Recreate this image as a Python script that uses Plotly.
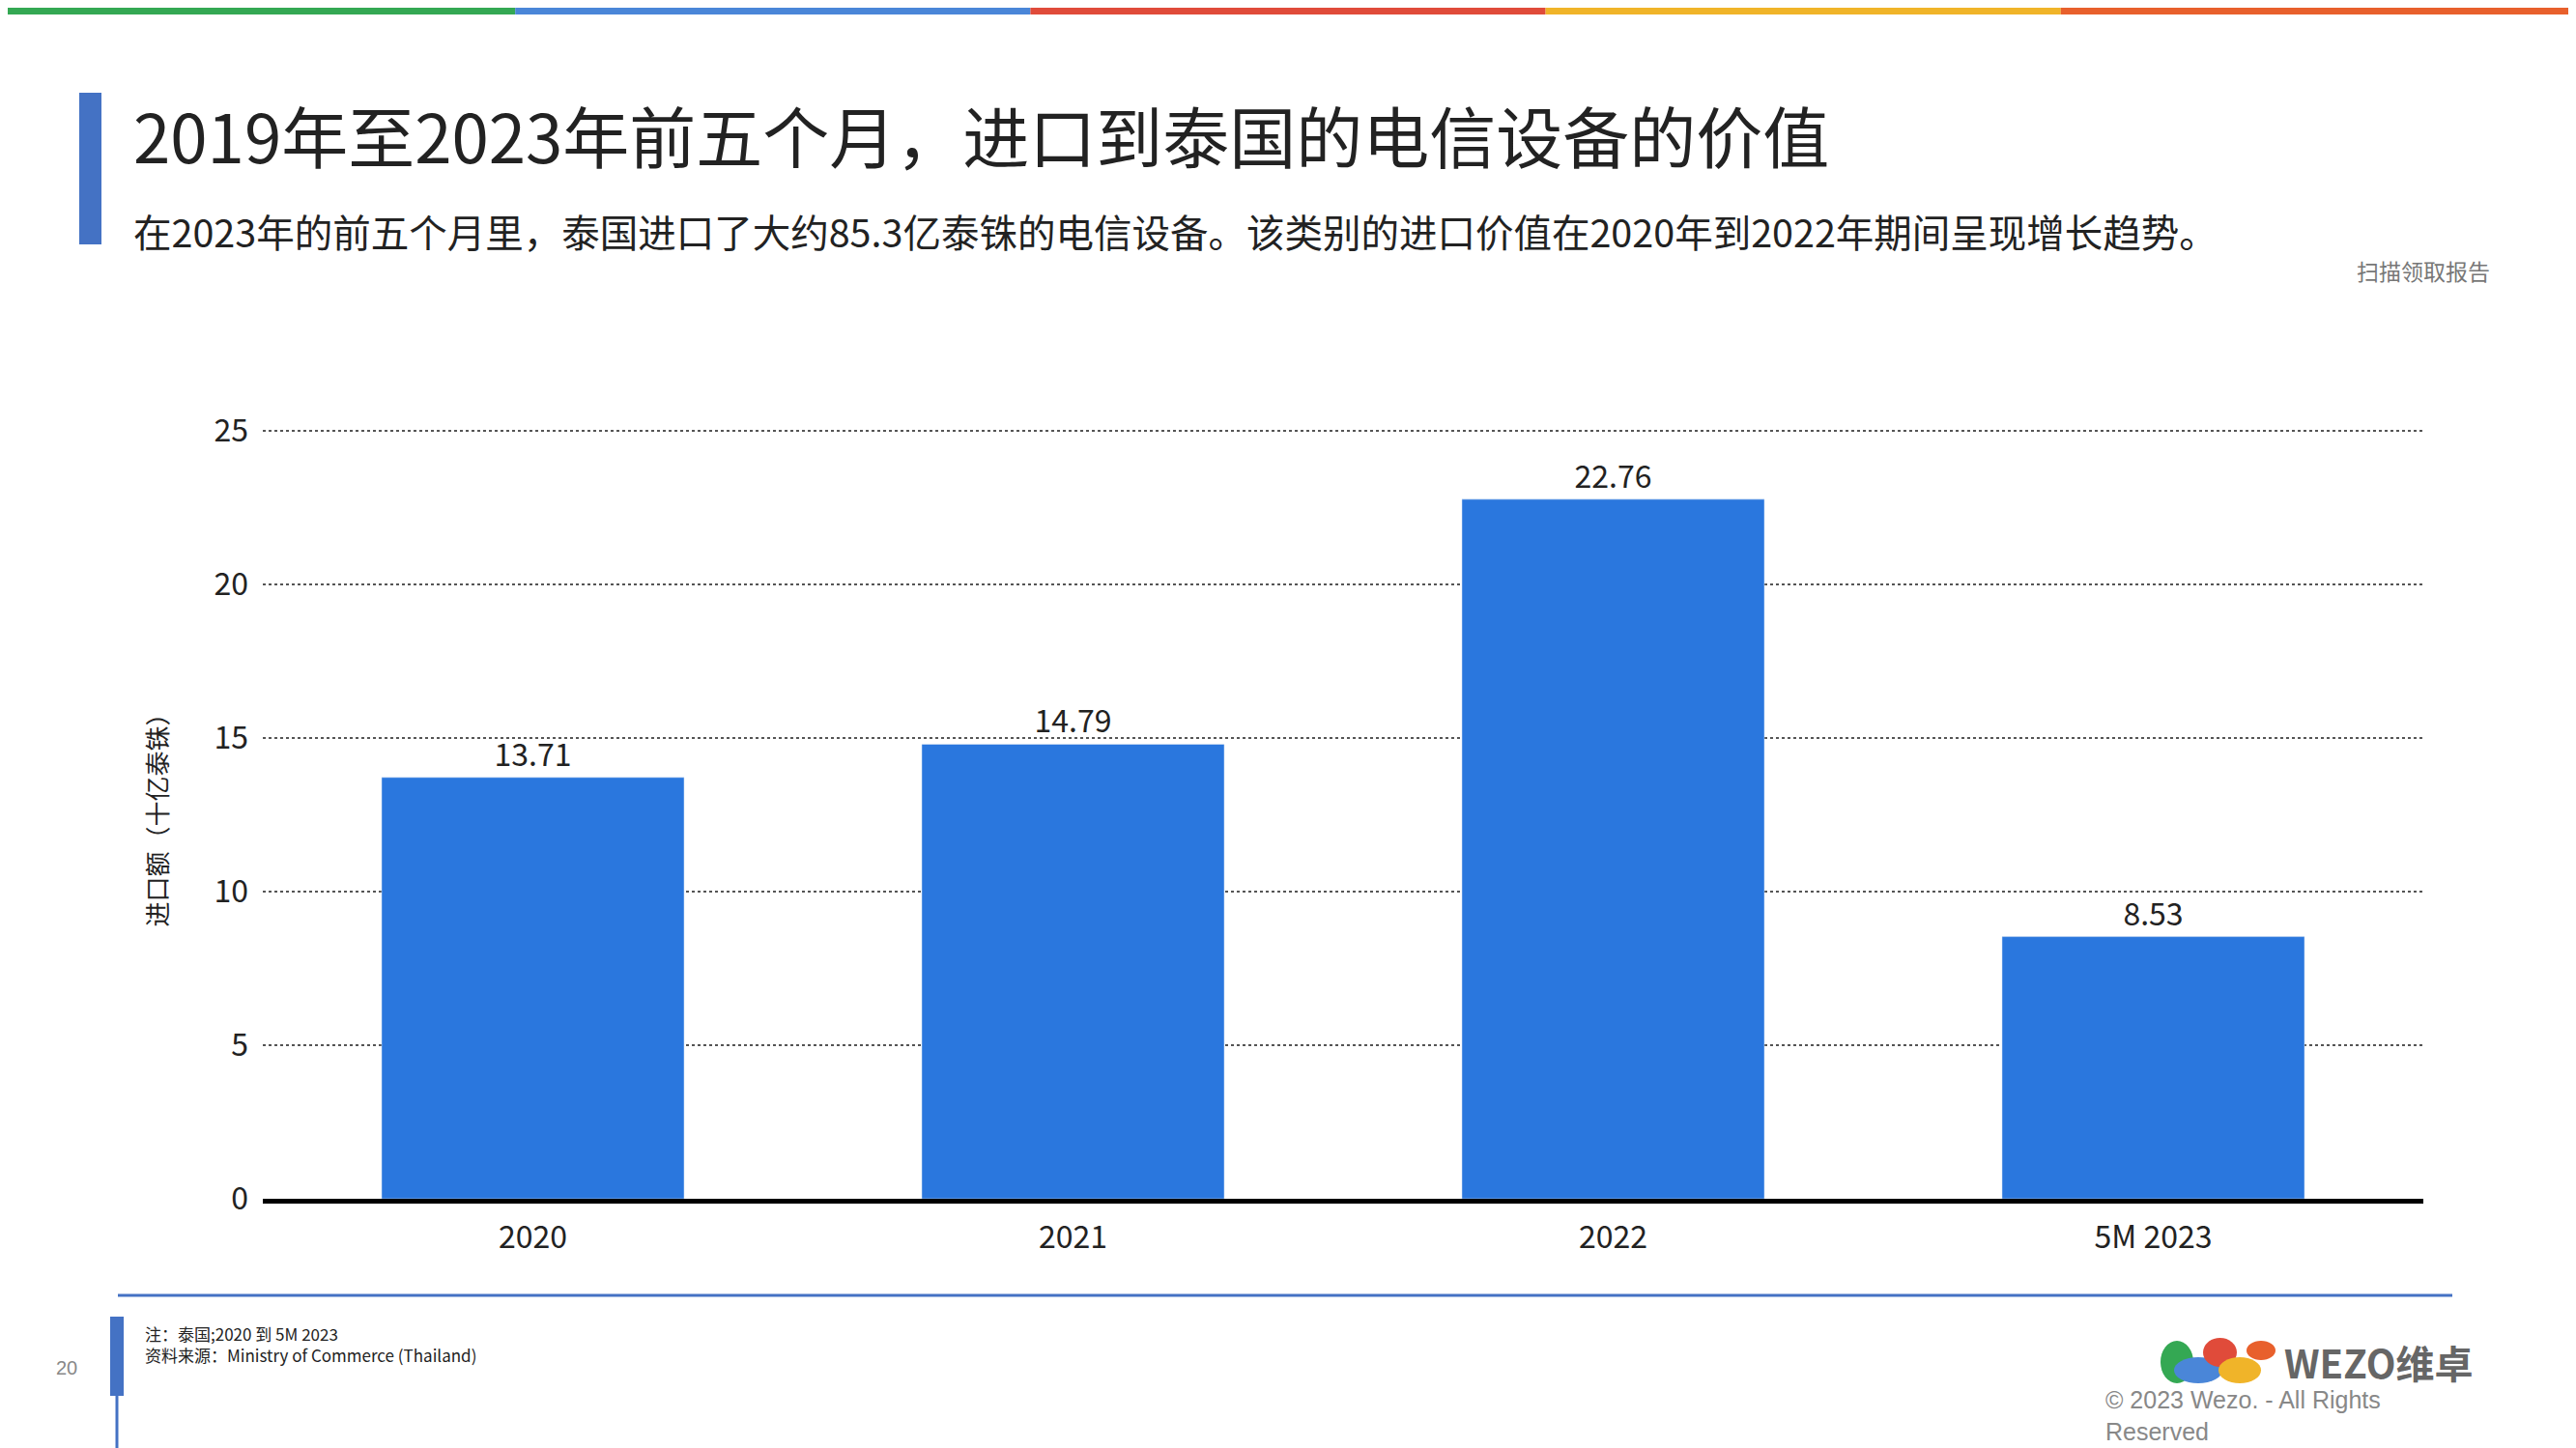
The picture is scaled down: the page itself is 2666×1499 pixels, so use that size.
import plotly.graph_objects as go

categories = ["2020", "2021", "2022", "5M 2023"]
values = [13.71, 14.79, 22.76, 8.53]
value_labels = ["13.71", "14.79", "22.76", "8.53"]

OFF = 8  # page body margin
W, H = 2666 - OFF, 1499 - OFF
L, R, T, B = 272 - OFF, 2508 - OFF, 444 - OFF, 1241 - OFF
FONT = "Noto Sans CJK SC"


def px(x):
    return (x - OFF - L) / (R - L)


def py(y):
    return (B - (y - OFF)) / (B - T)


fig = go.Figure(go.Bar(
    x=categories, y=values, text=value_labels, textposition="outside",
    marker_color="#2a77de", textfont=dict(size=32, color="#222", family=FONT),
    cliponaxis=False,
))

fig.update_layout(
    width=W, height=H, autosize=False,
    margin=dict(l=L, r=W - R, t=T, b=H - B),
    paper_bgcolor="white", plot_bgcolor="white",
    bargap=0.44, showlegend=False,
    font=dict(family=FONT, color="#222"),
)
fig.update_yaxes(range=[0, 25.05], tickvals=[0, 5, 10, 15, 20, 25], showgrid=True, gridcolor="#555",
                 griddash="dot", gridwidth=1.5, zeroline=False, tickfont=dict(size=32), ticks="",
                 ticklabelstandoff=14, title=dict(text="进口额（十亿泰铢）", font=dict(size=26), standoff=40))
fig.update_xaxes(showline=True, linecolor="black", linewidth=5, tickfont=dict(size=32),
                 ticks="", ticklabelstandoff=8)

shapes = []
# top colour bar
for i, c in enumerate(["#34a853", "#4a86d8", "#e04b3a", "#f0b429", "#e8602c"]):
    shapes.append(dict(type="rect", xref="paper", yref="paper", x0=px(i * 2666 / 5), x1=px((i + 1) * 2666 / 5),
                       y0=py(OFF), y1=py(OFF + 7), fillcolor=c, line_width=0, layer="above"))
# title accent
shapes.append(dict(type="rect", xref="paper", yref="paper", x0=px(82), x1=px(105), y0=py(96), y1=py(253),
                   fillcolor="#4472c4", line_width=0))
# footer line
shapes.append(dict(type="line", xref="paper", yref="paper", x0=px(122), x1=px(2538), y0=py(1341), y1=py(1341),
                   line=dict(color="#4472c4", width=3)))
shapes.append(dict(type="rect", xref="paper", yref="paper", x0=px(114), x1=px(128), y0=py(1363), y1=py(1445),
                   fillcolor="#4472c4", line_width=0))
shapes.append(dict(type="line", xref="paper", yref="paper", x0=px(121), x1=px(121), y0=py(1445), y1=py(1499),
                   line=dict(color="#4472c4", width=3)))
# logo blobs
for (x0, y0, x1, y1, c) in [(2236, 1388, 2270, 1432, "#34a853"), (2250, 1405, 2300, 1432, "#4a86d8"),
                            (2280, 1385, 2315, 1415, "#e04b3a"), (2296, 1405, 2340, 1432, "#f0b429"),
                            (2325, 1388, 2355, 1408, "#e8602c")]:
    shapes.append(dict(type="circle", xref="paper", yref="paper", x0=px(x0), x1=px(x1), y0=py(y1), y1=py(y0),
                       fillcolor=c, line_width=0))
fig.update_layout(shapes=shapes)

ann = [
    dict(x=px(136), y=py(139), text="2019年至2023年前五个月，进口到泰国的电信设备的价值",
         font=dict(size=69, color="#222"), xanchor="left"),
    dict(x=px(136), y=py(238), text="在2023年的前五个月里，泰国进口了大约85.3亿泰铢的电信设备。该类别的进口价值在2020年到2022年期间呈现增长趋势。",
         font=dict(size=39.5, color="#222"), xanchor="left"),
    dict(x=px(2579), y=py(280), text="扫描领取报告", font=dict(size=23, color="#777"), xanchor="right"),
    dict(x=px(148), y=py(1391), text="注：泰国;2020 到 5M 2023<br>资料来源：Ministry of Commerce (Thailand)",
         font=dict(size=17, color="#222"), xanchor="left", align="left"),
    dict(x=px(56), y=py(1416), text="20", font=dict(size=20, color="#888", family="Liberation Sans")),
    dict(x=px(2362), y=py(1410), text="<b>WEZO维卓</b>", font=dict(size=40, color="#666"), xanchor="left"),
    dict(x=px(2177), y=py(1465), text="© 2023 Wezo. - All Rights<br>Reserved", align="left",
         font=dict(size=25, color="#888", family="Liberation Sans"), xanchor="left"),
]
for a in ann:
    a.update(xref="paper", yref="paper", showarrow=False, yanchor="middle")
fig.update_layout(annotations=ann)

fig.write_html("out.html")
